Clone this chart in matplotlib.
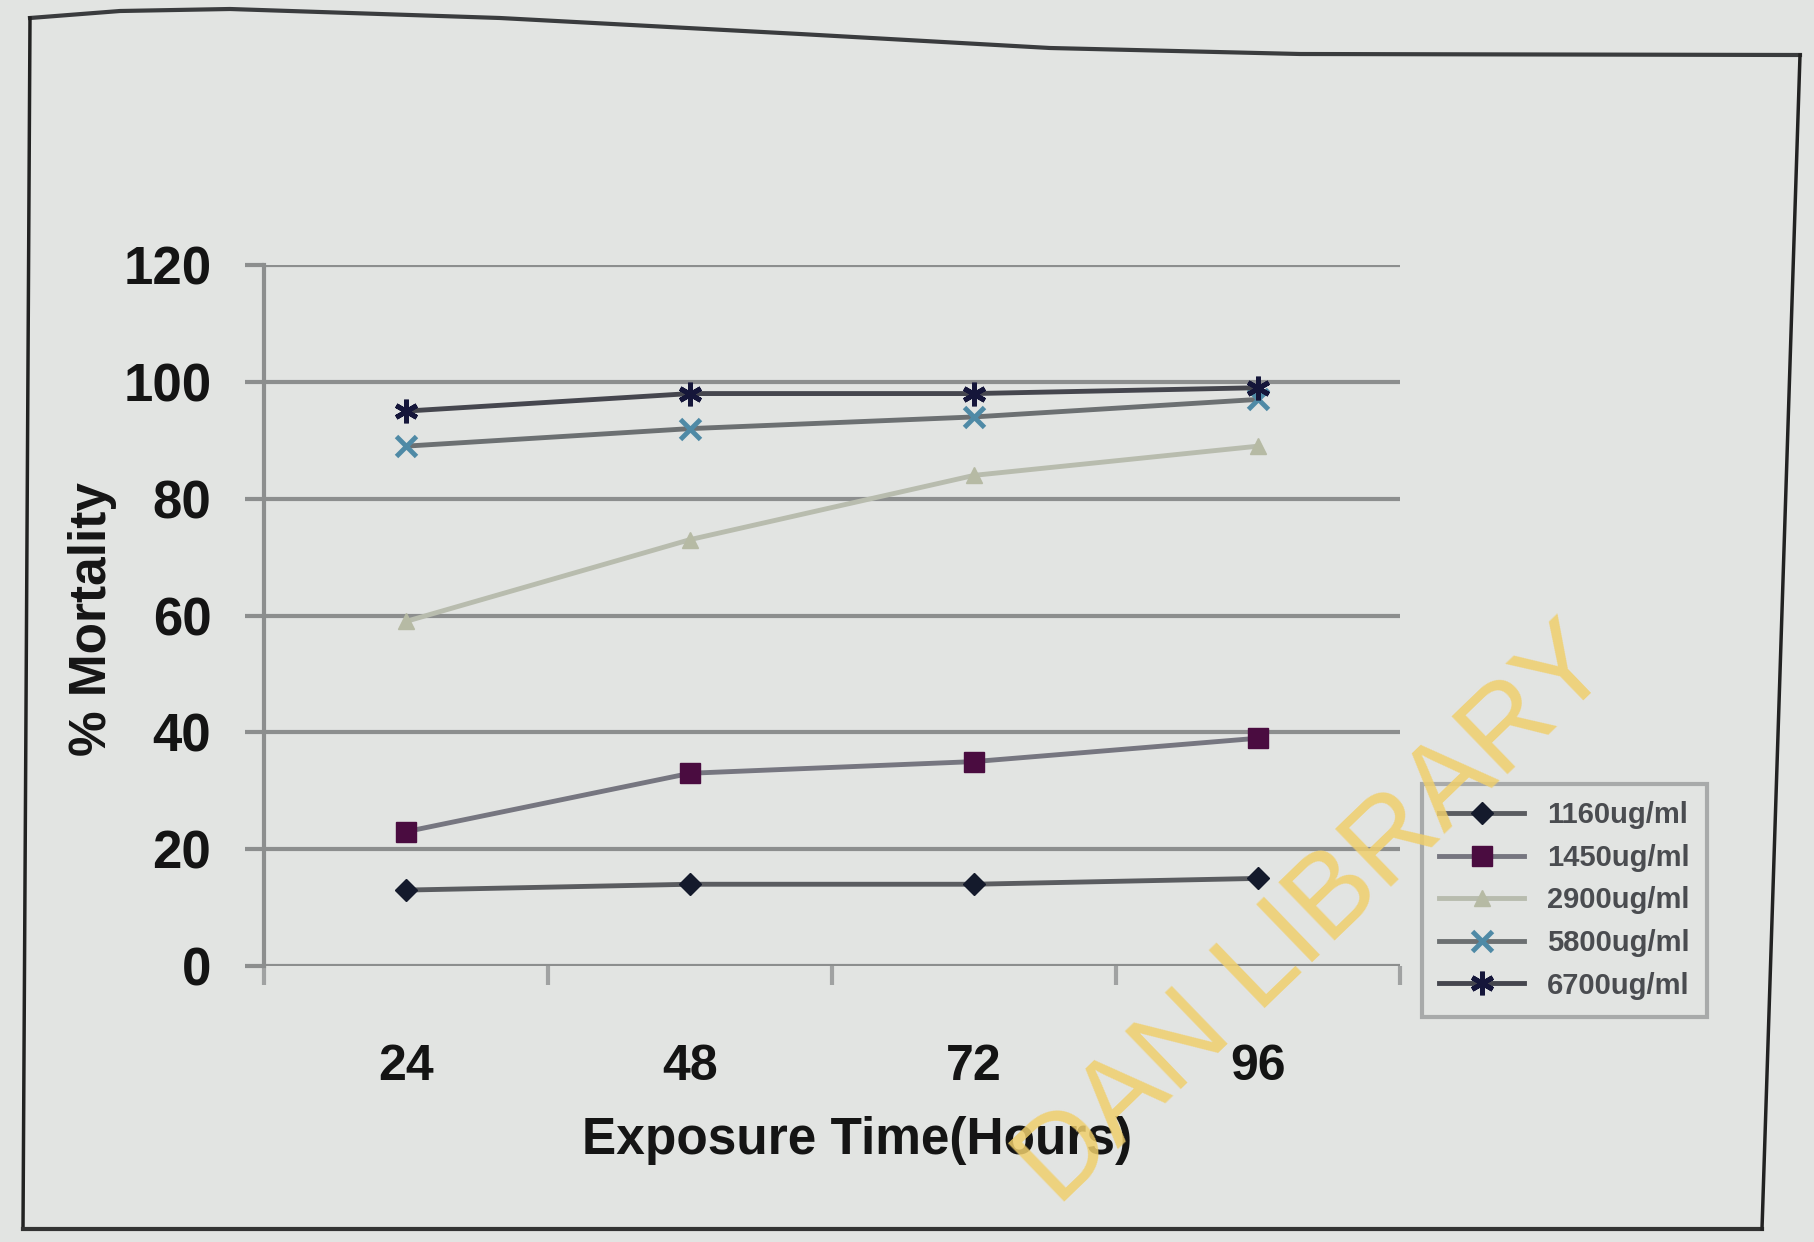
"""% mortality against exposure time for five extract concentrations."""
import matplotlib
matplotlib.use("Agg")
import matplotlib.pyplot as plt
from matplotlib.lines import Line2D

hours = ["24", "48", "72", "96"]
series_names = ["1160ug/ml", "1450ug/ml", "2900ug/ml", "5800ug/ml", "6700ug/ml"]
mort_1160 = [13, 14, 14, 15]
mort_1450 = [23, 33, 35, 39]
mort_2900 = [59, 73, 84, 89]
mort_5800 = [89, 92, 94, 97]
mort_6700 = [95, 98, 98, 99]
y_ticks = [0, 20, 40, 60, 80, 100, 120]

BG = "#e2e4e2"
GRID = "#8c8e8e"

styles = [
    dict(marker="D", ms=11, mfc="#141a2c", mec="#141a2c", color="#5a5c60"),
    dict(marker="s", ms=14, mfc="#4a0c40", mec="#4a0c40", color="#767680"),
    dict(marker="^", ms=12, mfc="#b6baa4", mec="#b6baa4", color="#b8bcae"),
    dict(marker="x", ms=14, mew=3.5, mfc="#4f8aa6", mec="#4f8aa6", color="#6c7072"),
    dict(marker=(6, 2, 0), ms=17, mew=3.5, mfc="#15163a", mec="#15163a", color="#45464e"),
]
values = [mort_1160, mort_1450, mort_2900, mort_5800, mort_6700]

fig = plt.figure(figsize=(18.15, 12.42), dpi=100, facecolor=BG)
ax = fig.add_axes([0.1455, 0.2222, 0.626, 0.5644], facecolor=BG)

xs = list(range(len(hours)))
handles = []
for name, vals, st in zip(series_names, values, styles):
    (ln,) = ax.plot(xs, vals, lw=3.5, label=name, zorder=3, **st)
    handles.append(ln)

ax.set_xlim(-0.5, len(hours) - 0.5)
ax.set_ylim(0, 120)
ax.set_yticks(y_ticks)
ax.yaxis.grid(True, color=GRID, lw=3)
ax.set_axisbelow(True)
for side in ("top", "right", "bottom"):
    ax.spines[side].set_visible(False)
ax.spines["left"].set_color(GRID)
ax.spines["left"].set_linewidth(3)
ax.spines["left"].set_zorder(1)

ax.tick_params(axis="y", length=14, width=3, color=GRID, pad=24,
               labelsize=38, labelcolor="#141414")
ax.set_yticklabels([str(t) for t in y_ticks], fontfamily="Liberation Sans",
                   fontweight="bold")

# category ticks sit between the groups, labels under the groups
ax.set_xticks(xs)
ax.set_xticklabels(hours, fontfamily="Liberation Sans", fontsize=36,
                   fontweight="bold", color="#141414")
ax.set_xticks([x - 0.5 for x in xs] + [len(hours) - 0.5], minor=True)
ax.tick_params(axis="x", which="major", length=0, pad=56)
ax.tick_params(axis="x", which="minor", length=14, width=3, color="#a0a2a2")

fig.text(0.472, 0.082, "Exposure Time(Hours)", ha="center", va="center",
         fontsize=37, fontweight="bold", family="Liberation Sans",
         color="#151515")
fig.text(0.051, 0.502, "% Mortality", ha="center", va="center",
         rotation=90, fontsize=37, fontweight="bold",
         family="Liberation Sans", color="#151515")

leg = fig.legend(handles=handles, loc="center",
                 bbox_to_anchor=(0.788, 0.182, 0.148, 0.186),
                 frameon=True, fancybox=False, handlelength=2.9,
                 labelspacing=0.5, borderpad=0.6,
                 prop=dict(family=["Liberation Sans Narrow", "Liberation Sans"],
                           weight="bold", size=21))
leg.get_frame().set_edgecolor("#9a9c9c")
leg.get_frame().set_linewidth(3)
leg.get_frame().set_facecolor(BG)
for t in leg.get_texts():
    t.set_color("#4a4c50")

# outer chart border, as printed on the page
W, H = 1815.0, 1242.0
top_x = [30, 120, 230, 500, 800, 1050, 1300, 1800]
top_y = [18, 11, 9, 18, 34, 48, 54, 55]
fig.add_artist(Line2D([x / W for x in top_x], [1 - y / H for y in top_y],
                      transform=fig.transFigure, color="#3a3c3e", lw=3))
fig.add_artist(Line2D([30 / W, 23 / W], [1 - 18 / H, 1 - 1229 / H],
                      transform=fig.transFigure, color="#222222", lw=2.5))
fig.add_artist(Line2D([23 / W, 1762 / W], [1 - 1229 / H, 1 - 1229 / H],
                      transform=fig.transFigure, color="#333333", lw=3))
fig.add_artist(Line2D([1800 / W, 1762 / W], [1 - 55 / H, 1 - 1229 / H],
                      transform=fig.transFigure, color="#222222", lw=2.5))

fig.text(0.725, 0.262, "DAN LIBRARY", rotation=44, ha="center", va="center",
         fontsize=84, family="Liberation Sans", color="#f0cf6c", alpha=0.85,
         rotation_mode="anchor", zorder=10)

fig.savefig("out.png", dpi=100, facecolor=BG)
